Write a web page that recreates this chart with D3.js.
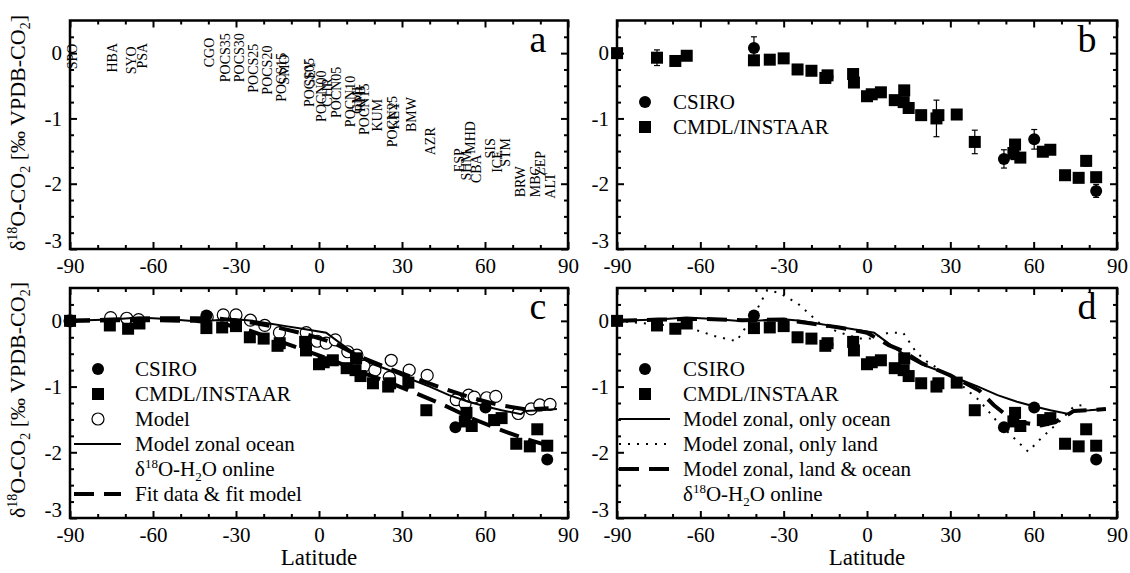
<!DOCTYPE html>
<html>
<head>
<meta charset="utf-8">
<script src="https://cdn.jsdelivr.net/npm/d3@7/dist/d3.min.js"></script>
<style>
  body { margin: 0; background: #fff; }
  .tick line { stroke: #000; stroke-width: 2; }
</style>
</head>
<body>
<script>
// station labels of panel a (latitude, mean value)
var stnName = ["SPO","HBA","SYO","PSA","CGO","POCS35","POCS30","POCS25","POCS20","POCS15","SMO","POCS05","SEY",
  "POCN00","CHR","POCN05","POCN10","GMI","RPB","POCN15","KUM","POCN25","KEY","BMW","AZR",
  "ESP","SHM","MHD","CBA","SIS","ICE","STM","BRW","MBC","ZEP","ALT"];
var stnLat = [-89.3,-74.8,-68,-64,-39.8,-34,-29,-23.9,-18.8,-13.7,-12.5,-3.6,-3.2,
  0.7,2.9,6.1,11.2,13.7,14.8,16.3,21,26.4,27.2,33.2,40.1,
  50.5,53.3,54.6,56.7,61.8,64.3,67.2,72.6,78,79.9,83.5];
var stnVal = [-0.05,-0.07,-0.11,-0.04,0.01,-0.07,-0.07,-0.23,-0.26,-0.37,-0.25,-0.45,-0.31,
  -0.66,-0.6,-0.6,-0.74,-0.72,-0.7,-0.86,-0.95,-1.05,-0.95,-0.94,-1.35,
  -1.64,-1.72,-1.29,-1.77,-1.46,-1.66,-1.52,-1.97,-1.97,-1.69,-2.03];

// CMDL/INSTAAR flask data
var cmdlLat = [-89.98,-75.6,-69,-64.9,-40.7,-35,-30,-25,-20,-14.2,-15,-5,-4.7,0,1.7,5,10,13.4,13.2,15,19.5,25,25.7,32.3,38.8,52.7,53.3,55.2,63.3,66,71.3,76.2,78.9,82.5];
var cmdlVal = [0.0,-0.07,-0.12,-0.04,-0.11,-0.10,-0.08,-0.25,-0.27,-0.34,-0.38,-0.32,-0.45,-0.66,-0.63,-0.6,-0.72,-0.57,-0.75,-0.84,-0.95,-1.0,-0.95,-0.94,-1.36,-1.53,-1.4,-1.6,-1.51,-1.48,-1.87,-1.91,-1.65,-1.90];
var cmdlErr = [0.03,0.12,0.05,0.04,0.04,0.04,0.04,0.04,0.04,0.04,0.04,0.05,0.05,0.04,0.04,0.04,0.04,0.05,0.05,0.04,0.06,0.28,0.05,0.05,0.18,0.1,0.06,0.06,0.06,0.07,0.05,0.05,0.08,0.05];

// CSIRO flask data
var csiroLat = [-40.7,-14.2,49.3,60.2,82.5];
var csiroVal = [0.08,-0.36,-1.62,-1.32,-2.11];
var csiroErr = [0.17,0.05,0.14,0.15,0.1];

// model sampled at stations (panel c)
var modelLat = [-89.98,-75.3,-69.5,-65.2,-40.4,-34.6,-30,-24.8,-19.6,-14.3,-4.6,-0.7,2.6,5.9,10.4,13.7,16.3,20.2,26.1,25.4,32.6,39.1,49.6,52.8,54.1,56.1,60.6,63.9,72,76.7,79.8,83.5];
var modelVal = [0.0,0.05,0.04,0.02,0.06,0.09,0.09,0.01,-0.07,-0.18,-0.18,-0.31,-0.34,-0.29,-0.47,-0.52,-0.69,-0.75,-0.6,-0.86,-0.75,-0.83,-1.2,-1.26,-1.13,-1.16,-1.17,-1.15,-1.41,-1.34,-1.28,-1.27];

// zonal means
var zonLat = [-90,-75,-65,-55,-47,-40,-31,-24,-18,-12,-6,2.6,8,14.3,19.6,26,33.9,40,47,54,60,66,73,74.5,80,86];
var zonOcean = [0,0.02,0.05,0.03,0,0,0.03,0.0,-0.04,-0.08,-0.12,-0.18,-0.35,-0.54,-0.66,-0.76,-0.9,-1.0,-1.13,-1.23,-1.3,-1.36,-1.42,-1.37,-1.36,-1.34];
var landLat = [-90,-77,-65,-55,-47,-40.4,-35.9,-31.3,-24.8,-17,-10.4,-2.6,1.3,7.8,13,17.6,20.9,31.3,40.4,47,58,62.6,69.8,74.3,79.6];
var zonLand = [0,-0.05,-0.09,-0.23,-0.31,0.11,0.47,0.42,0.26,-0.04,-0.17,-0.27,-0.27,-0.18,-0.18,-0.47,-0.6,-0.88,-1.21,-1.54,-1.99,-1.79,-1.51,-1.31,-1.26];
var bothLat = [-90,-75,-60,-45,-30,-20,-10,0,7.8,13,20,30,40.4,45.6,50.9,54.8,62.6,67.8,71.7,74.5,80,86];
var zonBoth = [0,0.02,0.03,0.01,0.02,-0.04,-0.1,-0.18,-0.37,-0.46,-0.65,-0.83,-1.06,-1.28,-1.46,-1.54,-1.59,-1.54,-1.44,-1.37,-1.36,-1.34];

// fits (panel c)
var fitLat = [-90,-75,-60,-45,-35,-25,-15,-5,5,15,25,35,45,55,65,75,83];
var fitData = [0,0.01,0.01,0,-0.04,-0.15,-0.3,-0.45,-0.6,-0.78,-0.93,-1.1,-1.28,-1.48,-1.65,-1.8,-1.9];
var fitModel = [0,0.02,0.04,0.04,0.03,-0.02,-0.1,-0.2,-0.33,-0.55,-0.72,-0.88,-1.03,-1.17,-1.28,-1.35,-1.33];

var xTicks = [-90,-60,-30,0,30,60,90];
var yTicks = [-3,-2,-1,0];

var FONT = "Liberation Serif";
var W = 1130, H = 573;
var svg = d3.select("body").append("svg").attr("width", W).attr("height", H)
  .attr("font-family", FONT);

function zip(a, b, c) { return a.map(function(d, i) { return c ? [d, b[i], c[i]] : [d, b[i]]; }); }

function panel(box, letter) {
  var g = svg.append("g");
  var x = d3.scaleLinear().domain([-90, 90]).range([box.x0, box.x1]);
  var y = d3.scaleLinear().domain([-3, 0.5]).range([box.y1, box.y0]);
  var minorX = d3.range(-80, 90, 10).filter(function(d) { return d % 30 != 0; });
  var minorY = d3.range(-3, 0.5, 0.25).filter(function(d) { return d % 1 != 0; });

  function ax(axis, tx, ty, vals, size, labels, pad) {
    var a = g.append("g").attr("transform", "translate(" + tx + "," + ty + ")")
      .call(axis.tickValues(vals).tickSize(-size).tickPadding(pad || 8)
        .tickFormat(labels ? function(d) { return String(d); } : ""));
    a.select(".domain").remove();
    a.attr("font-family", FONT);
    a.selectAll("text").attr("font-size", 21).attr("fill", "#000");
    return a;
  }
  ax(d3.axisBottom(x), 0, box.y1, xTicks, 7, true, 9);
  ax(d3.axisBottom(x), 0, box.y1, minorX, 4, false);
  ax(d3.axisTop(x), 0, box.y0, xTicks, 7, false);
  ax(d3.axisTop(x), 0, box.y0, minorX, 4, false);
  var yl = ax(d3.axisLeft(y), box.x0, 0, yTicks, 7, true, 8);
  // lowest label sits a little above its tick, as in the original
  yl.selectAll(".tick text").filter(function(d) { return d == -3; }).attr("dy", "-0.05em");
  ax(d3.axisLeft(y), box.x0, 0, minorY, 4, false);
  ax(d3.axisRight(y), box.x1, 0, yTicks, 7, false);
  ax(d3.axisRight(y), box.x1, 0, minorY, 4, false);

  g.append("rect").attr("x", box.x0).attr("y", box.y0)
    .attr("width", box.x1 - box.x0).attr("height", box.y1 - box.y0)
    .attr("fill", "none").attr("stroke", "#000").attr("stroke-width", 2.5);

  g.append("text").attr("x", box.x1 - 30).attr("y", box.y0 + 31)
    .attr("font-size", 38).attr("text-anchor", "middle").text(letter);
  return { g: g, x: x, y: y };
}

var pa = panel({x0: 70, x1: 568, y0: 20.5, y1: 249}, "a");
var pb = panel({x0: 617, x1: 1117, y0: 20.5, y1: 249}, "b");
var pc = panel({x0: 70, x1: 568, y0: 288, y1: 518}, "c");
var pd = panel({x0: 617, x1: 1117, y0: 288, y1: 518}, "d");

// panel a: station names
pa.g.selectAll("text.stn").data(zip(stnLat, stnVal, stnName)).enter().append("text")
  .attr("class", "stn")
  .attr("transform", function(d) { return "translate(" + (pa.x(d[0]) + 5) + "," + pa.y(d[1]) + ") rotate(-90)"; })
  .attr("text-anchor", "middle").attr("font-size", 14).text(function(d) { return d[2]; });

function errorBars(p, data) {
  var e = p.g.append("g").attr("stroke", "#000").attr("stroke-width", 1.2);
  data.forEach(function(d) {
    var cx = p.x(d[0]), t = p.y(d[1] + d[2]), b = p.y(d[1] - d[2]);
    e.append("line").attr("x1", cx).attr("x2", cx).attr("y1", t).attr("y2", b);
    e.append("line").attr("x1", cx - 3).attr("x2", cx + 3).attr("y1", t).attr("y2", t);
    e.append("line").attr("x1", cx - 3).attr("x2", cx + 3).attr("y1", b).attr("y2", b);
  });
}
function squares(p, data, s) {
  p.g.append("g").selectAll("rect").data(data).enter().append("rect")
    .attr("x", function(d) { return p.x(d[0]) - s / 2; })
    .attr("y", function(d) { return p.y(d[1]) - s / 2; })
    .attr("width", s).attr("height", s).attr("fill", "#000");
}
function circles(p, data, r, open) {
  p.g.append("g").selectAll("circle").data(data).enter().append("circle")
    .attr("cx", function(d) { return p.x(d[0]); }).attr("cy", function(d) { return p.y(d[1]); })
    .attr("r", r).attr("fill", open ? "#fff" : "#000").attr("stroke", "#000").attr("stroke-width", open ? 1.2 : 0);
}
function curve(p, lat, val, w, dash) {
  var line = d3.line().x(function(d) { return p.x(d[0]); }).y(function(d) { return p.y(d[1]); });
  p.g.append("path").datum(zip(lat, val)).attr("d", line).attr("fill", "none")
    .attr("stroke", "#000").attr("stroke-width", w).attr("stroke-dasharray", dash || null);
}

var cmdl = zip(cmdlLat, cmdlVal, cmdlErr), csiro = zip(csiroLat, csiroVal, csiroErr);
var model = zip(modelLat, modelVal);

// panel b
errorBars(pb, cmdl);
errorBars(pb, csiro);
squares(pb, cmdl, 12);
circles(pb, csiro, 6, false);

// panel c
circles(pc, model, 6, true);
curve(pc, zonLat, zonOcean, 2);
curve(pc, fitLat, fitData, 4, "20,10");
curve(pc, fitLat, fitModel, 4, "20,10");
squares(pc, cmdl, 12);
circles(pc, csiro, 6, false);

// panel d
curve(pd, zonLat, zonOcean, 2);
curve(pd, landLat, zonLand, 2, "2,7");
curve(pd, bothLat, zonBoth, 4, "20,10");
squares(pd, cmdl, 12);
circles(pd, csiro, 6, false);

// legends
function legend(g, mx, tx, y0, rows) {
  rows.forEach(function(r, i) {
    var yy = y0 + i * 25;
    if (r.sym == "dot") g.append("circle").attr("cx", mx).attr("cy", yy).attr("r", 6).attr("fill", "#000");
    if (r.sym == "sq") g.append("rect").attr("x", mx - 6).attr("y", yy - 6).attr("width", 12).attr("height", 12).attr("fill", "#000");
    if (r.sym == "open") g.append("circle").attr("cx", mx).attr("cy", yy).attr("r", 6).attr("fill", "#fff").attr("stroke", "#000").attr("stroke-width", 1.2);
    if (r.sym == "solid" || r.sym == "dash" || r.sym == "dotted") {
      g.append("line").attr("x1", r.l0).attr("x2", r.l1).attr("y1", yy).attr("y2", yy).attr("stroke", "#000")
        .attr("stroke-width", r.sym == "dash" ? 4 : 2)
        .attr("stroke-dasharray", r.sym == "dash" ? "20,10" : r.sym == "dotted" ? "2,7" : null);
    }
    var t = g.append("text").attr("x", tx).attr("y", yy + 7).attr("font-size", 21);
    if (r.h2o) {
      t.append("tspan").text("\u03b4");
      t.append("tspan").attr("font-size", 13).attr("dy", -8).text("18");
      t.append("tspan").attr("dy", 8).text("O-H");
      t.append("tspan").attr("font-size", 13).attr("dy", 5).text("2");
      t.append("tspan").attr("dy", -5).text("O online");
    } else t.text(r.label);
  });
}
legend(pb.g, 645, 673, 102, [{sym: "dot", label: "CSIRO"}, {sym: "sq", label: "CMDL/INSTAAR"}]);
legend(pc.g, 98, 135, 369, [
  {sym: "dot", label: "CSIRO"}, {sym: "sq", label: "CMDL/INSTAAR"}, {sym: "open", label: "Model"},
  {sym: "solid", l0: 74, l1: 121, label: "Model zonal ocean"}, {h2o: true},
  {sym: "dash", l0: 74, l1: 121, label: "Fit data & fit model"}]);
legend(pd.g, 645, 683, 369, [
  {sym: "dot", label: "CSIRO"}, {sym: "sq", label: "CMDL/INSTAAR"},
  {sym: "solid", l0: 619, l1: 670, label: "Model zonal, only ocean"},
  {sym: "dotted", l0: 619, l1: 670, label: "Model zonal, only land"},
  {sym: "dash", l0: 619, l1: 670, label: "Model zonal, land & ocean"}, {h2o: true}]);

// axis titles
function yTitle(cy) {
  var t = svg.append("text").attr("transform", "translate(25," + cy + ") rotate(-90)")
    .attr("text-anchor", "middle").attr("font-size", 22);
  t.append("tspan").text("\u03b4");
  t.append("tspan").attr("font-size", 14).attr("dy", -8).text("18");
  t.append("tspan").attr("dy", 8).text("O-CO");
  t.append("tspan").attr("font-size", 14).attr("dy", 5).text("2");
  t.append("tspan").attr("dy", -5).text(" [\u2030  VPDB-CO");
  t.append("tspan").attr("font-size", 14).attr("dy", 5).text("2");
  t.append("tspan").attr("dy", -5).text("]");
}
yTitle(133);
yTitle(400);
[pc, pd].forEach(function(p) {
  svg.append("text").attr("x", p.x(0)).attr("y", 565).attr("text-anchor", "middle")
    .attr("font-size", 23).text("Latitude");
});
svg.selectAll("text").attr("font-family", FONT);
</script>
</body>
</html>
